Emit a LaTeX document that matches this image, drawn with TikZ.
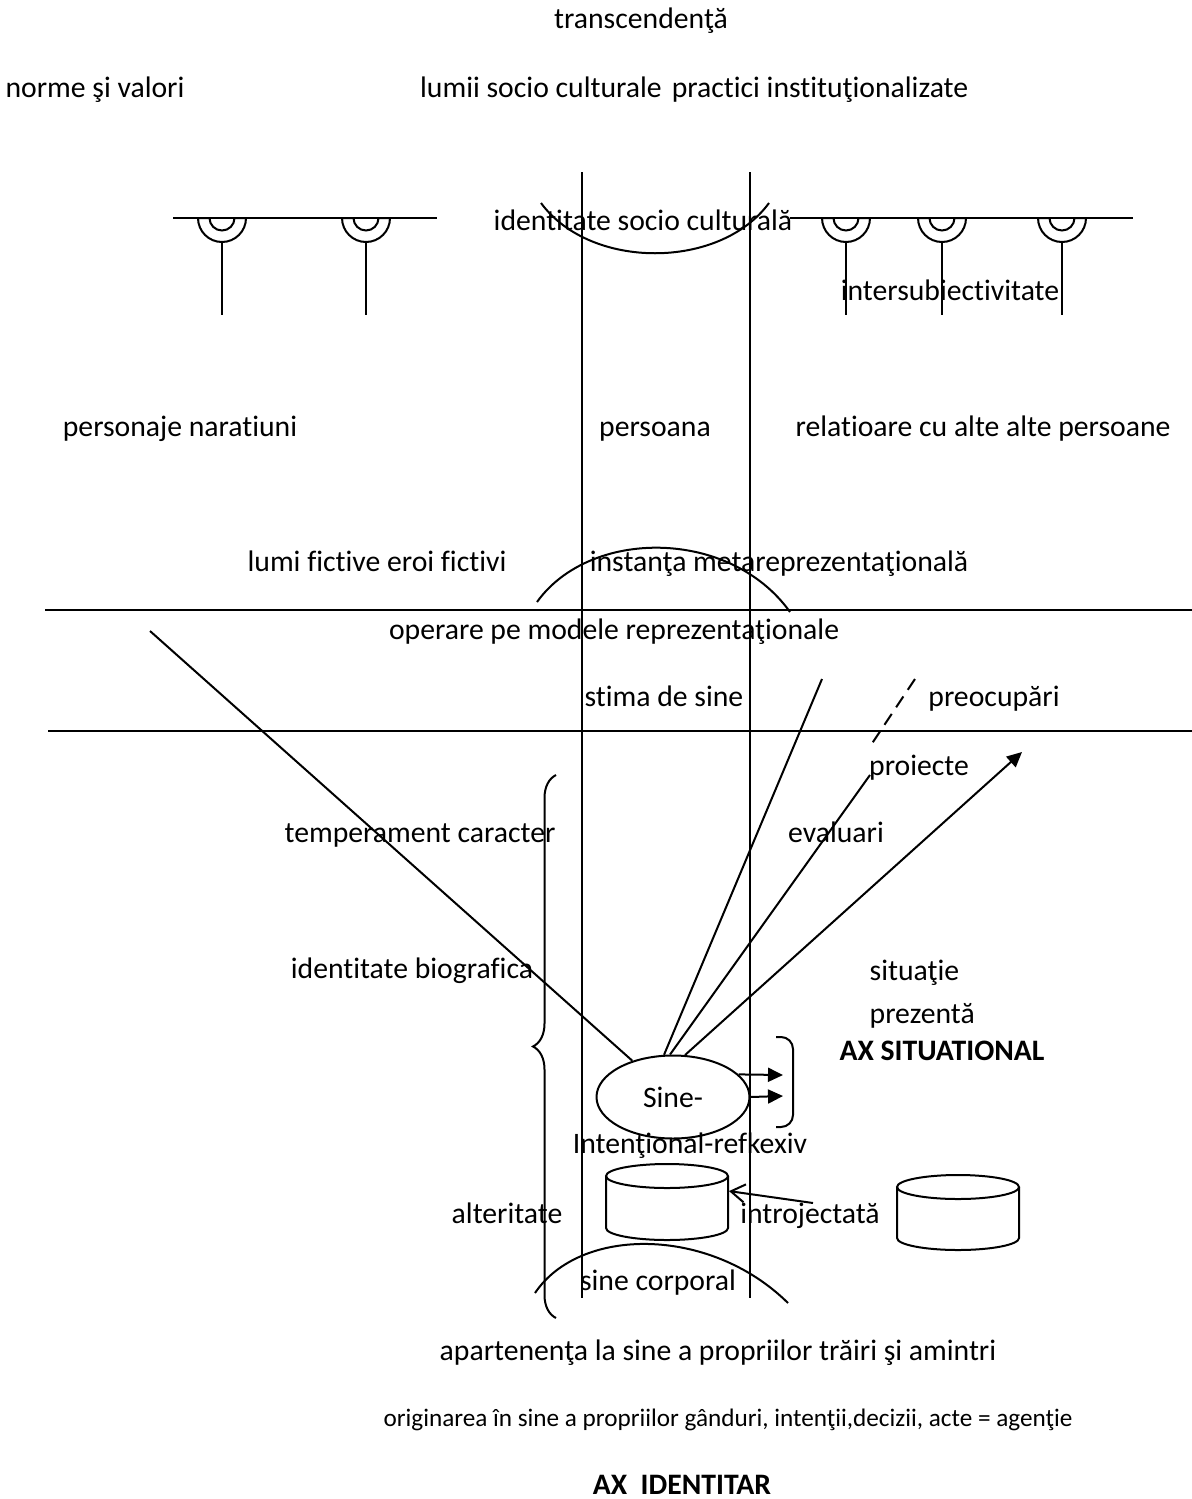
\documentclass[tikz,border=0pt]{standalone}
\usepackage{fontspec}
\setmainfont{Carlito}[Ligatures=NoCommon]
\usetikzlibrary{arrows.meta,shapes.geometric,decorations.pathreplacing}

\begin{document}
\begin{tikzpicture}[x=0.5pt,y=-0.5pt,font=\fontsize{14.85}{17.8}\selectfont,line width=1pt,>={Triangle[length=7.5pt,width=7pt]},
  txt/.style={anchor=base},
  boldtxt/.style={anchor=base,font=\fontsize{14.85}{17.8}\selectfont\bfseries},
  can/.style={minimum width=61pt,minimum height=38pt,inner sep=0}]
\useasboundingbox (0,0) rectangle (1192,1499);
% texts
\node[txt] (transc) at (641,28) {transcendenţă};
\node[txt] (norme) at (95,97) {norme şi valori};
\node[txt] (lumii) at (541,97) {lumii socio culturale};
\node[txt] (practici) at (820,97) {practici instituţionalizate};
\node[txt] (idsoc) at (643,230) {identitate socio culturală};
\node[txt] (intersub) at (950,300) {intersubiectivitate};
\node[txt] (personaje) at (180,436) {personaje naratiuni};
\node[txt] (persoana) at (655,436) {persoana};
\node[txt] (relatii) at (983,436) {relatioare cu alte alte persoane};
\node[txt] (lumifict) at (377,571) {lumi fictive eroi fictivi};
\node[txt] (instanta) at (779,571) {instanţa metareprezentaţională};
\node[txt] (operare) at (614,639) {operare pe modele reprezentaţionale};
\node[txt] (stima) at (664,706) {stima de sine};
\node[txt] (preocup) at (994,706) {preocupări};
\node[txt] (proiecte) at (919,775) {proiecte};
\node[txt] (temper) at (420,842) {temperament caracter};
\node[txt] (evaluari) at (836,842) {evaluari};
\node[txt] (idbio) at (412,978) {identitate biografica};
\node[align=left,anchor=west] (situatie) at (862,994) {situaţie\\[3.5pt]prezentă};
\node[boldtxt] (axsit) at (942,1060) {AX SITUATIONAL};
\node[txt] (intentional) at (690,1153) {Intenţional-refkexiv};
\node[txt] (alteritate) at (507,1223) {alteritate};
\node[txt] (intro) at (810,1223) {introjectată};
\node[txt] (corporal) at (658,1290) {sine corporal};
\node[txt] (apart) at (718,1360) {apartenenţa la sine a propriilor trăiri şi amintri};
\node[txt,font=\fontsize{12.6}{15}\selectfont] (origin) at (728,1426) {originarea în sine a propriilor gânduri, intenţii,decizii, acte = agenţie};
\node[boldtxt] (axid) at (682,1494) {AX~~IDENTITAR};
% shapes
\node[ellipse,draw,minimum width=76.5pt,minimum height=41.5pt,inner sep=0] (sine) at (673,1097) {Sine-};
\node[can] (cylL) at (667,1202) {};
\draw (606,1176) -- (606,1228) arc[start angle=180,end angle=0,x radius=61,y radius=12] -- (728,1176);
\draw (667,1176) ellipse[x radius=61,y radius=12];
\node[can] (cylR) at (958,1212) {};
\draw (897,1187) -- (897,1238) arc[start angle=180,end angle=0,x radius=61,y radius=12] -- (1019,1187);
\draw (958,1187) ellipse[x radius=61,y radius=12];
% axes
\draw (582,172) -- (582,1298);
\draw (750,172) -- (750,1298);
\draw (45,610) -- (1192,610);
\draw (48,731) -- (1192,731);
% arcs
\draw (541,203) .. controls (590,270) and (720,270) .. (769,203);
\draw (537,602) .. controls (590,528) and (730,528) .. (790,612);
\draw (535,1293) .. controls (580,1226) and (710,1226) .. (788,1303);
% sockets left
\draw (173,218) -- (437,218);
\draw (198,218) arc[start angle=180,end angle=0,radius=24] -- (234.5,218) arc[start angle=0,end angle=180,radius=12.5] -- cycle;
\draw (222,242) -- (222,315);
\draw (342,218) arc[start angle=180,end angle=0,radius=24] -- (378.5,218) arc[start angle=0,end angle=180,radius=12.5] -- cycle;
\draw (366,242) -- (366,315);
% sockets right
\draw (790,218) -- (1133,218);
\draw (822,218) arc[start angle=180,end angle=0,radius=24] -- (858.5,218) arc[start angle=0,end angle=180,radius=12.5] -- cycle;
\draw (846,242) -- (846,315);
\draw (918,218) arc[start angle=180,end angle=0,radius=24] -- (954.5,218) arc[start angle=0,end angle=180,radius=12.5] -- cycle;
\draw (942,242) -- (942,315);
\draw (1038,218) arc[start angle=180,end angle=0,radius=24] -- (1074.5,218) arc[start angle=0,end angle=180,radius=12.5] -- cycle;
\draw (1062,242) -- (1062,315);
% braces
\draw[decorate,decoration={brace,amplitude=11.5pt}] (556,1318) -- (556,775);
\draw[rounded corners=6pt] (776,1037) -- (793,1037) -- (793,1127) -- (776,1127);
% connectors
\coordinate (fict) at (150,631);
\coordinate (evalsrc) at (822,679);
\coordinate (proisrc) at (870,775);
\coordinate (preoA) at (915,679);
\coordinate (preoB) at (869,748);
\coordinate (proj) at (1022,752);
\coordinate (axa) at (783,1075);
\coordinate (axb) at (783,1096);
\coordinate (introsrc) at (813,1203);
\draw (fict) -- (sine);
\draw (evalsrc) -- (sine.102);
\draw (proisrc) -- (sine.94);
\draw[dash pattern=on 6.5pt off 4pt] (preoA) -- (preoB);
\draw[->] (sine.74) -- (proj);
\draw[->] (sine.19) -- (axa);
\draw[->] (sine.east) -- (axb);
\draw[-{Straight Barb[length=7pt,width=9pt]}] (introsrc) -- (cylL.10);
\end{tikzpicture}
\end{document}
